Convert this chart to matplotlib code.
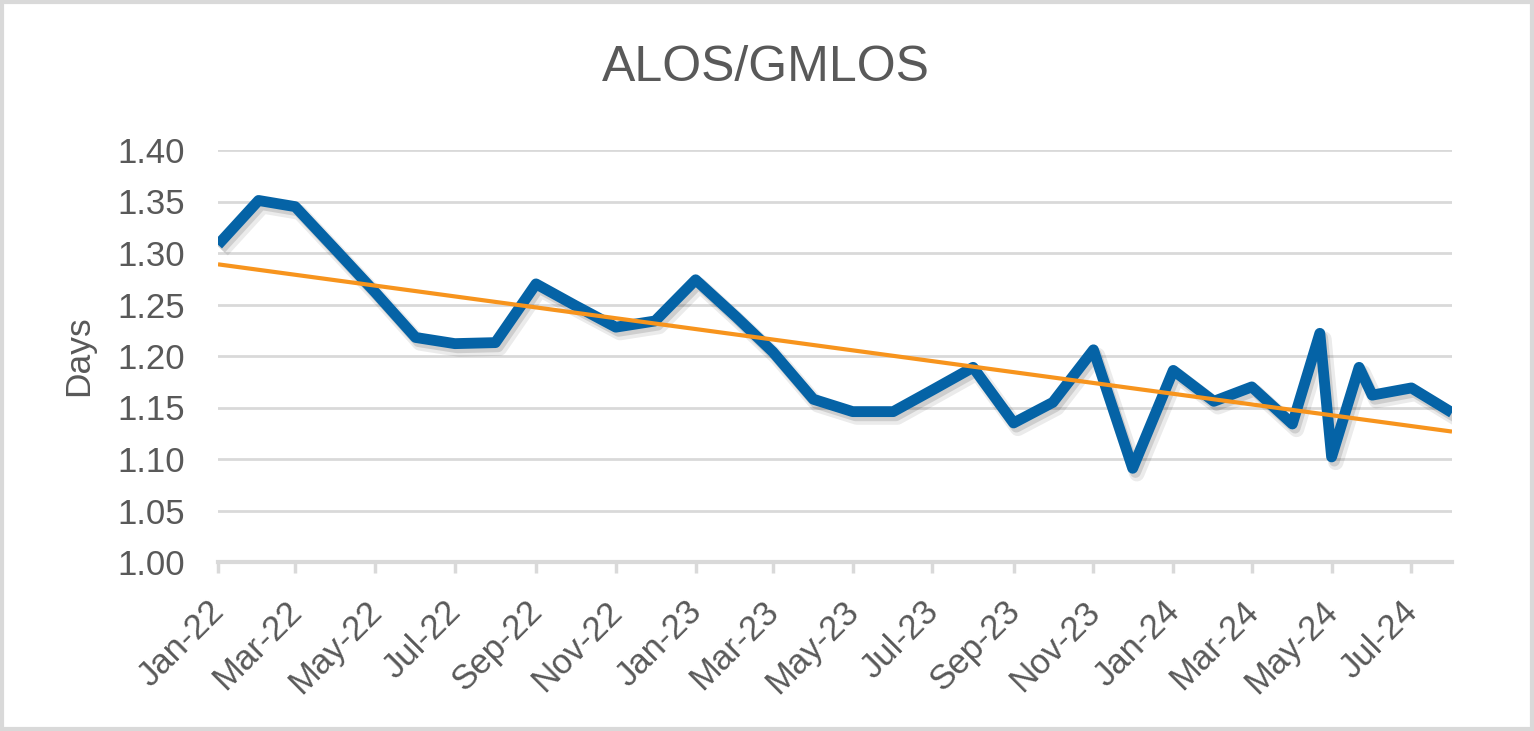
import numpy as np
import matplotlib
matplotlib.use("Agg")
import matplotlib.pyplot as plt
import matplotlib.dates as mdates
import matplotlib.patheffects as pe
import matplotlib.transforms as mtransforms

plt.rcParams['font.family'] = ['Liberation Sans', 'DejaVu Sans']

dates = [
    "2022-01-01", "2022-02-01", "2022-03-01", "2022-04-01", "2022-05-01", "2022-06-01",
    "2022-07-01", "2022-08-01", "2022-09-01", "2022-10-01", "2022-11-01", "2022-12-01",
    "2023-01-01", "2023-02-01", "2023-03-01", "2023-04-01", "2023-05-01", "2023-06-01",
    "2023-07-01", "2023-08-01", "2023-09-01", "2023-10-01", "2023-11-01", "2023-12-01",
    "2024-01-01", "2024-02-01", "2024-03-01", "2024-04-01", "2024-04-22", "2024-05-01",
    "2024-05-22", "2024-06-01", "2024-07-01", "2024-08-01",
]
alos_gmlos = [
    1.308, 1.351, 1.345, 1.303, 1.262, 1.218,
    1.212, 1.213, 1.270, 1.249, 1.228, 1.234,
    1.274, 1.238, 1.204, 1.158, 1.146, 1.146,
    1.167, 1.189, 1.135, 1.155, 1.206, 1.091,
    1.186, 1.156, 1.170, 1.134, 1.222, 1.102,
    1.189, 1.162, 1.169, 1.145,
]
title = "ALOS/GMLOS"
ylabel = "Days"

x = np.array([np.datetime64(d) for d in dates]).astype("datetime64[D]")
xn = mdates.date2num(x)
y = np.array(alos_gmlos)

fig = plt.figure(figsize=(15.34, 7.31), dpi=100)
ax = fig.add_axes([218/1534, 1-562/731, (1452-218)/1534, (562-150)/731])

grid_c = "#d9d9d9"
text_c = "#595959"

# linear trend line (least squares over dates)
coef = np.polyfit(xn, y, 1)
tx = np.array([xn[0], xn[-1]])
ax.plot(tx, np.polyval(coef, tx), color="#f7941d", lw=3.0, zorder=4, solid_capstyle="butt")

ax.plot(xn, y, color="#0563a6", lw=7.8, zorder=3, solid_joinstyle="round", solid_capstyle="butt",
        path_effects=[pe.SimpleLineShadow(offset=(3, -4), shadow_color="#000000", alpha=0.08,
                                          linewidth=11),
                      pe.SimpleLineShadow(offset=(2, -3), shadow_color="#000000", alpha=0.12),
                      pe.Normal()])

ax.set_ylim(1.00, 1.40)
ax.set_yticks(np.arange(1.00, 1.401, 0.05))
ax.yaxis.set_major_formatter(matplotlib.ticker.FormatStrFormatter("%.2f"))
ax.set_xlim(xn[0], xn[-1])
ax.xaxis.set_major_locator(mdates.MonthLocator(bymonth=[1, 3, 5, 7, 9, 11]))
ax.xaxis.set_major_formatter(mdates.DateFormatter("%b-%y"))

ax.grid(axis="y", color=grid_c, lw=2.0, zorder=0)
ax.set_axisbelow(True)
for s in ["top", "right", "left"]:
    ax.spines[s].set_visible(False)
ax.spines["bottom"].set_color(grid_c)
ax.spines["bottom"].set_linewidth(3)
ax.spines["bottom"].set_zorder(1)

ax.tick_params(axis="y", length=0, labelsize=25, labelcolor=text_c, pad=24)
ax.tick_params(axis="x", length=8, width=2.5, color=grid_c, labelsize=25,
               labelcolor=text_c, pad=24)
offset = mtransforms.ScaledTranslation(1/100, 0, fig.dpi_scale_trans)
for lab in ax.get_xticklabels():
    lab.set_rotation(45)
    lab.set_ha("right")
    lab.set_va("center")
    lab.set_rotation_mode("anchor")
    lab.set_transform(lab.get_transform() + offset)

ax.set_ylabel(ylabel, fontsize=25.5, color=text_c, labelpad=16)
fig.text(766/1534, 1-68/731, title, fontsize=36, color=text_c, ha="center", va="center")

# outer border
fig.patches.append(matplotlib.patches.Rectangle((0.0015, 0.003), 0.997, 0.994, transform=fig.transFigure,
                                                fill=False, edgecolor=grid_c, lw=3))

fig.savefig("out.png", dpi=100, facecolor="white")
